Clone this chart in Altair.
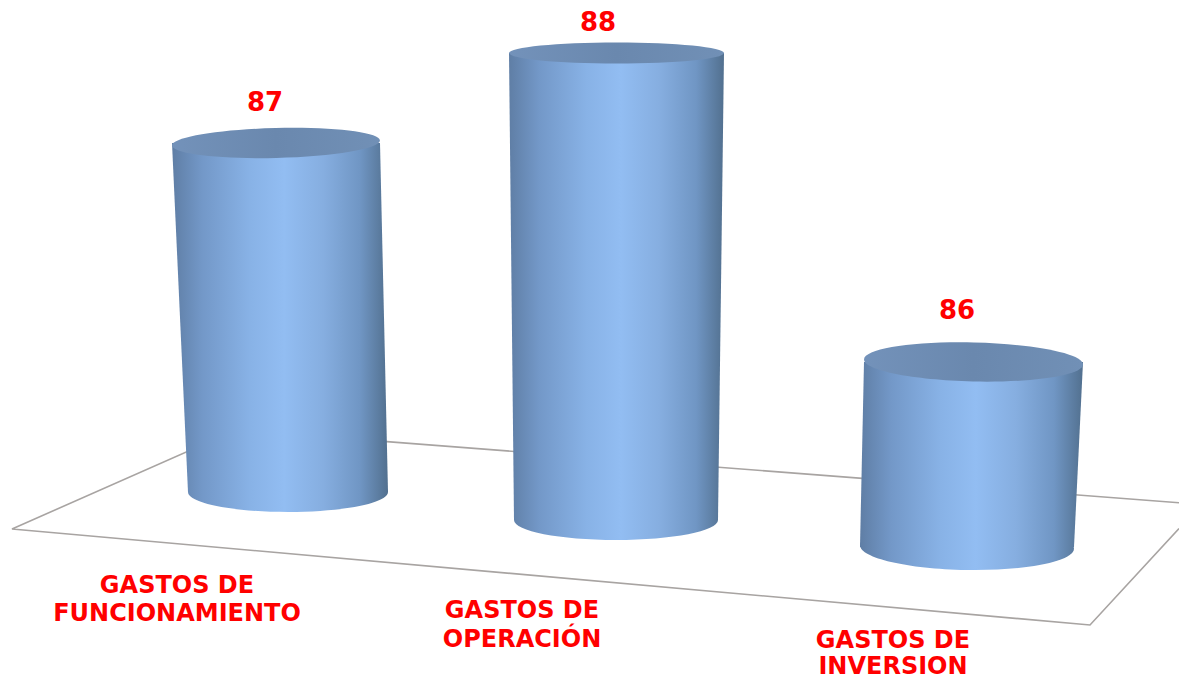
import altair as alt
import pandas as pd

W, H = 1171, 673
X_DOM = [8, 8 + W]
Y_DOM = [8 + H, 8]

# values and labels
values = [87, 88, 86]
value_x = [265, 598, 957]
value_y = [103, 23, 311]
label_lines = ["GASTOS DE", "FUNCIONAMIENTO", "GASTOS DE", "OPERACIÓN", "GASTOS DE", "INVERSION"]
label_x = [177, 177, 522, 522, 893, 893]
label_y = [586, 614, 611, 640, 641, 667]

# cylinder geometry
top_left = [172, 509, 864]
top_right = [380, 724, 1083]
top_y = [143, 53, 362]
top_ratio = [0.144, 0.098, 0.178]
top_angle = [358.6, 0, 1.3]
bottom_left = [188, 514, 860]
bottom_right = [388, 718, 1074]
bottom_y = [492, 520, 547]
bottom_ratio = [0.2, 0.196, 0.215]
bottom_angle = [0, 0, 1]

# floor outline
floor_x = [1179, 236, 12, 1090, 1179]
floor_y = [502.8, 430, 529, 625, 528.6]

x = lambda f: alt.X(f, type="quantitative", scale=alt.Scale(domain=X_DOM, nice=False, zero=False), axis=None)
y = lambda f: alt.Y(f, type="quantitative", scale=alt.Scale(domain=Y_DOM, nice=False, zero=False), axis=None)

body_stops = [
    alt.GradientStop(color="#5f7ea5", offset=0),
    alt.GradientStop(color="#7398c8", offset=0.14),
    alt.GradientStop(color="#88b2e6", offset=0.36),
    alt.GradientStop(color="#92bdf2", offset=0.52),
    alt.GradientStop(color="#86aee0", offset=0.7),
    alt.GradientStop(color="#7096c4", offset=0.87),
    alt.GradientStop(color="#52708f", offset=1),
]
body_fill = alt.Gradient(gradient="linear", x1=0, y1=0, x2=1, y2=0, stops=body_stops)
top_fill = alt.Gradient(
    gradient="linear", x1=0, y1=0, x2=1, y2=0,
    stops=[
        alt.GradientStop(color="#7392ba", offset=0),
        alt.GradientStop(color="#6a88ae", offset=0.5),
        alt.GradientStop(color="#7190b6", offset=1),
    ],
)


def ellipse(ratio):
    return f"M-1,0A1,{ratio},0,1,1,1,0A1,{ratio},0,1,1,-1,0Z"


def disc(left, right, cy, ratio, angle, fill):
    half = (right - left) / 2
    df = pd.DataFrame({"cx": [(left + right) / 2], "cy": [cy], "s": [4 * half * half], "a": [angle]})
    return alt.Chart(df).mark_point(filled=True, fill=fill, stroke=None, opacity=1, shape=ellipse(ratio)).encode(
        x=x("cx"), y=y("cy"),
        size=alt.Size("s:Q", scale=None, legend=None),
        angle=alt.Angle("a:Q", scale=None),
    )


layers = []
floor_df = pd.DataFrame({"x": floor_x, "y": floor_y, "o": range(len(floor_x))})
layers.append(
    alt.Chart(floor_df).mark_line(color="#a8a4a2", strokeWidth=1.6, clip=True).encode(
        x=x("x"), y=y("y"), order="o:Q"
    )
)

for i in range(len(values)):
    body = pd.DataFrame({
        "l": [top_left[i], bottom_left[i]],
        "r": [top_right[i], bottom_right[i]],
        "y": [top_y[i], bottom_y[i]],
    })
    # bottom cap: continue the body's shading across the narrower ellipse
    L = min(top_left[i], bottom_left[i])
    R = max(top_right[i], bottom_right[i])
    span = bottom_right[i] - bottom_left[i]
    cap_fill = alt.Gradient(
        gradient="linear", y1=0, y2=0,
        x1=(L - bottom_left[i]) / span, x2=(R - bottom_left[i]) / span,
        stops=body_stops,
    )
    layers.append(disc(bottom_left[i], bottom_right[i], bottom_y[i], bottom_ratio[i], bottom_angle[i], cap_fill))
    layers.append(
        alt.Chart(body).mark_area(orient="horizontal", fill=body_fill, opacity=1).encode(
            y=y("y"), x=x("l"), x2="r:Q"
        )
    )
    layers.append(disc(top_left[i], top_right[i], top_y[i], top_ratio[i], top_angle[i], top_fill))

value_df = pd.DataFrame({"x": value_x, "y": value_y, "t": values})
layers.append(
    alt.Chart(value_df).mark_text(font="DejaVu Sans", fontWeight="bold", fontSize=26, color="#ff0000").encode(
        x=x("x"), y=y("y"), text="t:N"
    )
)
label_df = pd.DataFrame({"x": label_x, "y": label_y, "t": label_lines})
layers.append(
    alt.Chart(label_df).mark_text(font="DejaVu Sans", fontWeight="bold", fontSize=24, color="#ff0000").encode(
        x=x("x"), y=y("y"), text="t:N"
    )
)

chart = alt.layer(*layers).properties(
    width=W, height=H, padding=0, autosize=alt.AutoSizeParams(type="none"), background="white"
).configure_view(stroke=None)

chart.save("out.html", embed_options={"renderer": "svg", "actions": False})
